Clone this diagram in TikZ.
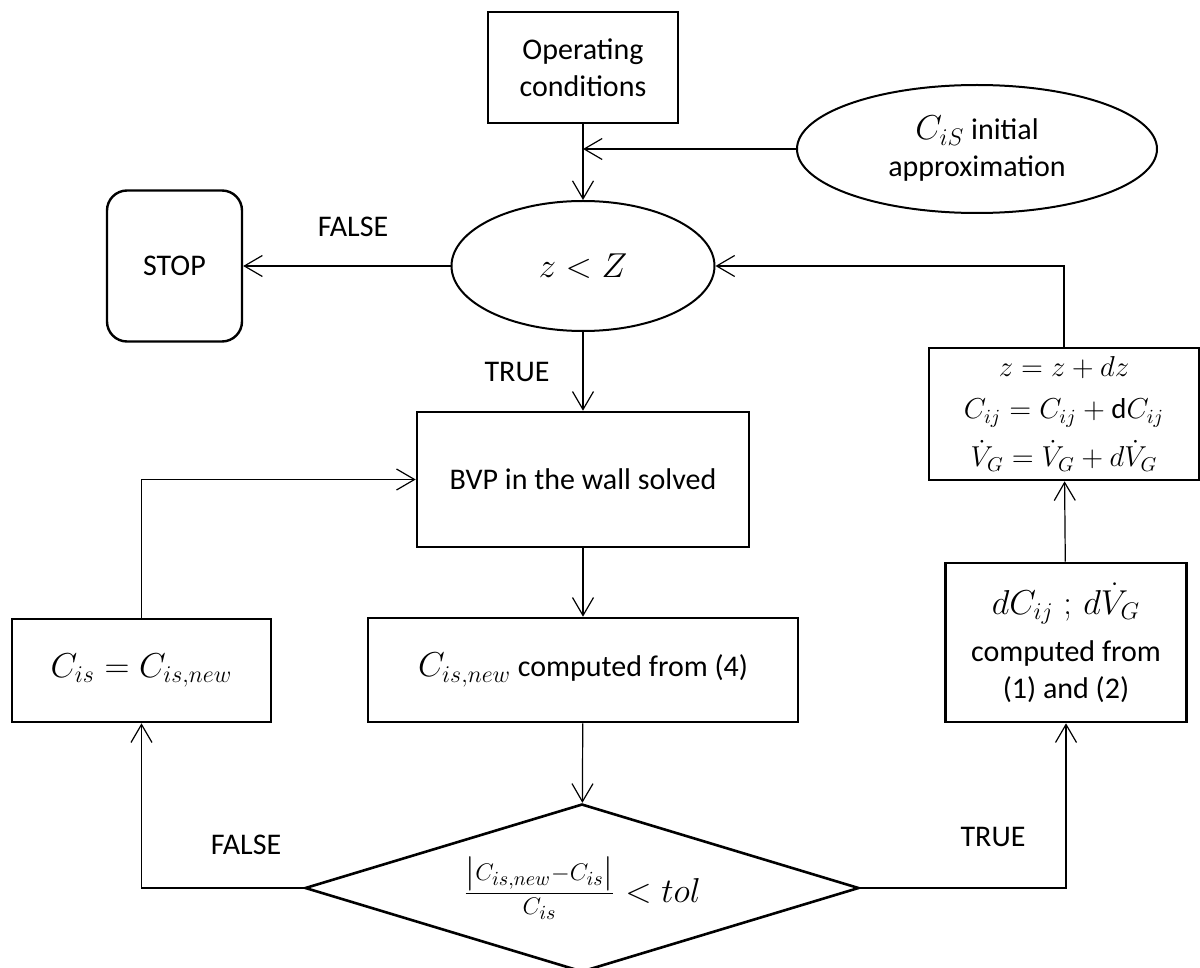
\documentclass[tikz,border=0pt]{standalone}
\usepackage{amsmath}
\usepackage{fontspec}
\setmainfont{Carlito}
\DeclareMathSizes{15}{17.28}{12}{10}
\usetikzlibrary{arrows.meta, positioning, shapes.geometric}
\tikzset{%
	box/.style={draw, line width=1.3pt, rectangle, align=center, inner sep=0pt},
	oval/.style={draw, line width=1pt, ellipse, align=center, inner sep=0pt},
	stopbox/.style={draw, line width=1.2pt, rectangle, rounded corners=10pt, inner sep=0pt},
	test/.style={draw, line width=1.3pt, diamond, aspect=3.3, inner sep=0pt},
	flow/.style={-{Straight Barb[length=9pt,width=10.5pt]}, line width=0.6pt},
	tag/.style={inner sep=0pt}
}

\begin{document}
\begin{tikzpicture}[x=0.5pt, y=-0.5pt, font=\fontsize{15}{18.5}\selectfont]
	\useasboundingbox (0,0) rectangle (1200,968);
	%start
	\node [box, minimum width=95pt, minimum height=55.5pt] (op) at (583,67.5) {Operating\\conditions};
	\node [oval, minimum width=180pt, minimum height=64pt] (ciS) at (977,149) {$C_{iS}$ initial\\approximation};
	\coordinate (meet) at (ciS -| op);
	%outer loop
	\node [oval, minimum width=131.5pt, minimum height=65pt] (zZ) at (583,266) {$z < Z$};
	\node [stopbox, minimum width=67.5pt, minimum height=75.5pt] (stop) at (174.5,266) {STOP};
	\node [box, minimum width=166pt, minimum height=67.5pt] (bvp) at (583,479.5) {BVP in the wall solved};
	\node [box, minimum width=215pt, minimum height=52pt] (cnew) at (583,670) {$C_{is,new}$ computed from (4)};
	\node [box, minimum width=129.5pt, minimum height=51.5pt] (cis) at (141.5,670.5) {$C_{is} = C_{is,new}$};
	\node [test, minimum width=277pt, minimum height=84pt] (check) at (582,888)
		{$\frac{\left|C_{is,new}-C_{is}\right|}{C_{is}} < tol$};
	%right column
	\node [box, minimum width=120.5pt, minimum height=79.5pt] (dc) at (1066,642.5)
		{$dC_{ij}\;;\, d\dot{V}_G$\\[5pt] computed from\\ (1) and (2)};
	\node [box, minimum width=135pt, minimum height=66pt, font=\fontsize{14.4}{20}\selectfont] (zbox) at (1064,414)
		{$z = z + dz$\\[1pt] $C_{ij} = C_{ij} + \mathrm{d}C_{ij}$\\[4pt] $\dot{V}_G = \dot{V}_G + d\dot{V}_G$};
	%labels
	\node [tag] (f1) at (353,227) {FALSE};
	\node [tag] (t1) at (517,372) {TRUE};
	\node [tag] (f2) at (246,845) {FALSE};
	\node [tag] (t2) at (993,837) {TRUE};

	%connectors
	\draw [flow] (op) -- (zZ);
	\draw [flow] (ciS) -- (meet);
	\draw [flow] (zZ) -- (stop);
	\draw [flow] (zZ) -- (bvp);
	\draw [flow] (bvp) -- (cnew);
	\draw [flow] (cnew) -- (check);
	\draw [flow] (check.west) -| (cis.south);
	\draw [flow] (cis.north) |- (bvp.west);
	\draw [flow] (check.east) -| (dc.south);
	\draw [flow] (dc) -- (zbox);
	\draw [flow] (zbox.north) |- (zZ.east);
\end{tikzpicture}
\end{document}
